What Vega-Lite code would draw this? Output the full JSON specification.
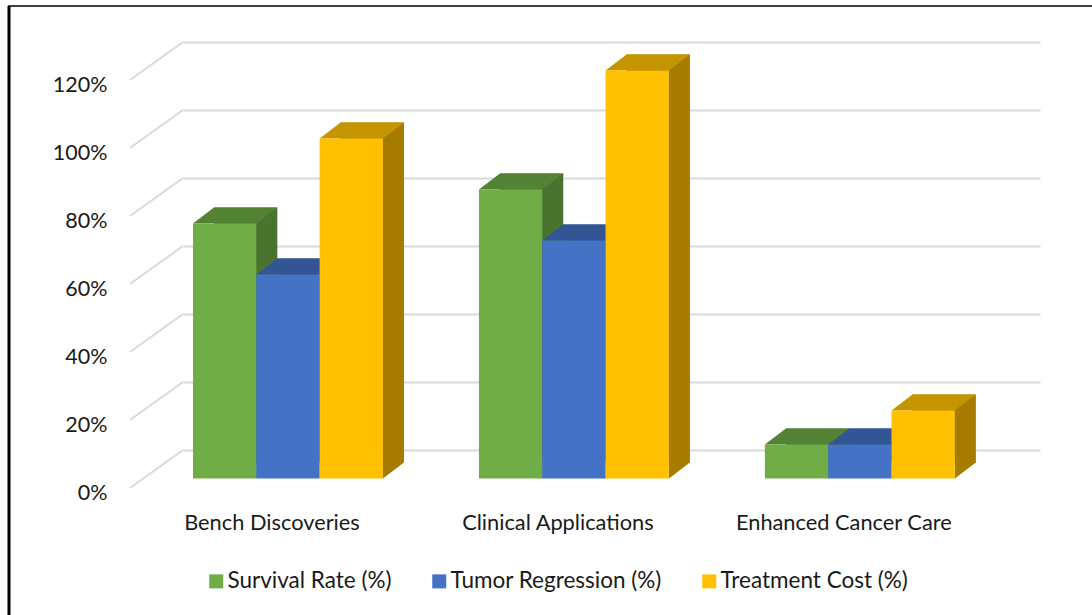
{
"$schema":"https://vega.github.io/schema/vega-lite/v6.json",
"width":857,"height":408,
"autosize":{"type":"none"},
"padding":{"left":183,"top":42,"right":52,"bottom":165},
"background":"white",
"config":{"view":{"stroke":null},"font":"Lato"},
"datasets":{
"bars":[
{"stage":"Bench Discoveries","series":"Survival Rate (%)","value":75},
{"stage":"Bench Discoveries","series":"Tumor Regression (%)","value":60},
{"stage":"Bench Discoveries","series":"Treatment Cost (%)","value":100},
{"stage":"Clinical Applications","series":"Survival Rate (%)","value":85},
{"stage":"Clinical Applications","series":"Tumor Regression (%)","value":70},
{"stage":"Clinical Applications","series":"Treatment Cost (%)","value":120},
{"stage":"Enhanced Cancer Care","series":"Survival Rate (%)","value":10},
{"stage":"Enhanced Cancer Care","series":"Tumor Regression (%)","value":10},
{"stage":"Enhanced Cancer Care","series":"Treatment Cost (%)","value":20}
],
"grid":[{"v":0},{"v":20},{"v":40},{"v":60},{"v":80},{"v":100},{"v":120}]
},
"encoding":{
"x":{"field":"stage","type":"nominal","sort":null,"title":null,
"scale":{"paddingInner":0.3357,"paddingOuter":0.1664,"align":0.105},
"axis":{"orient":"bottom","domain":false,"ticks":false,"grid":false,"labelAngle":0,"labelOffset":-16,"labelPadding":72,"labelFontSize":21.8,"labelLimit":400,"labelColor":"#1a1a1a","labelFont":"Lato","labelBaseline":"middle"}},
"xOffset":{"field":"series","type":"nominal","sort":["Survival Rate (%)","Tumor Regression (%)","Treatment Cost (%)"]},
"y":{"field":"value","type":"quantitative","title":null,
"scale":{"domain":[0,120],"nice":false},
"axis":{"values":[0,20,40,60,80,100,120],"labelExpr":"datum.value + '%'","domain":false,"ticks":false,"grid":true,"gridColor":"#d9d9d9","gridWidth":2,"labelOffset":43,"labelPadding":76,"labelFontSize":21.5,"labelColor":"#1a1a1a","labelFont":"Lato"}}
},
"layer":[
{"data":{"name":"grid"},
 "mark":{"type":"point","shape":"M-53 38L0 0","size":4,"filled":false,"stroke":"#d9d9d9","strokeWidth":2,"opacity":1},
 "encoding":{"x":{"value":0},"xOffset":{"value":0},"y":{"field":"v","type":"quantitative"}}},
{"data":{"name":"bars"},
 "mark":{"type":"bar","yOffset":12.5,"y2Offset":12.5,"opacity":1},
 "encoding":{"xOffset":{"field":"series","type":"nominal","sort":["Survival Rate (%)","Tumor Regression (%)","Treatment Cost (%)"],"scale":{"range":[21,211]}},
  "color":{"field":"series","type":"nominal","legend":null,"sort":null,
   "scale":{"domain":["Survival Rate (%)","Tumor Regression (%)","Treatment Cost (%)"],"range":["#4a7330","#2f5597","#a67c00"]}}}},
{"data":{"name":"bars"},
 "mark":{"type":"point","shape":"M31.7 28.5L52.7 12.5L52.7 11L31.7 11Z","size":4,"filled":true,"opacity":1},
 "encoding":{"y":{"datum":0},"color":{"field":"series","type":"nominal","legend":null,"sort":null,
   "scale":{"domain":["Survival Rate (%)","Tumor Regression (%)","Treatment Cost (%)"],"range":["#4a7330","#2f5597","#a67c00"]}}}},
{"data":{"name":"bars"},
 "mark":{"type":"point","shape":"M-31.7 28.5L-10.7 12.5L52.7 12.5L31.7 28.5Z","size":4,"filled":true,"opacity":1},
 "encoding":{"color":{"field":"series","type":"nominal","legend":null,"sort":null,
   "scale":{"domain":["Survival Rate (%)","Tumor Regression (%)","Treatment Cost (%)"],"range":["#548235","#335593","#c49500"]}}}},
{"data":{"name":"bars"},
 "mark":{"type":"bar","yOffset":28.5,"y2Offset":28.5,"opacity":1},
 "encoding":{"color":{"field":"series","type":"nominal","sort":null,
   "scale":{"domain":["Survival Rate (%)","Tumor Regression (%)","Treatment Cost (%)"],"range":["#70ad47","#4472c4","#ffc000"]},
   "legend":{"title":null,"orient":"none","direction":"horizontal","legendX":22,"legendY":528,"symbolType":"square","symbolSize":196,"symbolStrokeWidth":0,"symbolOpacity":1,"labelFontSize":22.5,"labelLimit":400,"labelColor":"#1a1a1a","labelFont":"Lato","columnPadding":36,"labelOffset":0}}}},
{"data":{"values":[{"k":"frame"}]},
 "mark":{"type":"rule","color":"#000000","strokeWidth":3},
 "encoding":{"x":{"value":-174},"xOffset":{"value":0},"y":{"value":-36},"y2":{"value":573}}},
{"data":{"values":[{"k":"frame"}]},
 "mark":{"type":"rule","color":"#000000","strokeWidth":1.5},
 "encoding":{"y":{"value":-36},"x":{"value":-175},"xOffset":{"value":0},"x2":{"value":909}}}
],
"resolve":{"scale":{"color":"independent","xOffset":"independent"}}
}
